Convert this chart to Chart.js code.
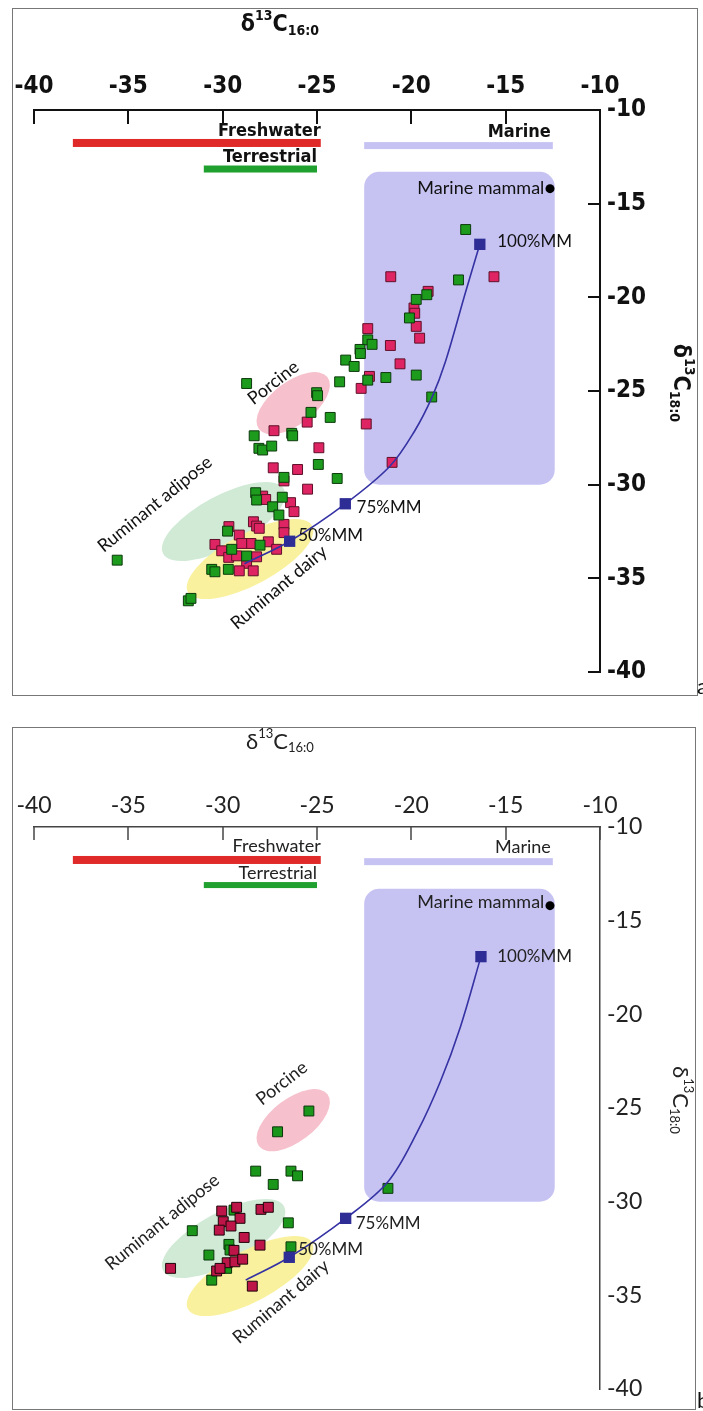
<!DOCTYPE html>
<html>
<head>
<meta charset="utf-8">
<script src="https://cdn.jsdelivr.net/npm/chart.js@4.4.1/dist/chart.umd.min.js"></script>
<style>
  html, body { margin: 0; padding: 0; background: #fff; }
  body { width: 703px; height: 1411px; position: relative; overflow: hidden; }
  .frame { position: absolute; border: 1px solid #777; box-sizing: border-box; }
  canvas { position: absolute; left: 0; }
  .tag { position: absolute; font: 22px Lato, sans-serif; color: #111; }
</style>
</head>
<body>
<div class="frame" style="left:12px;top:8px;width:686px;height:688px"></div>
<div class="frame" style="left:12px;top:727px;width:684px;height:683px"></div>
<canvas id="chartA" width="703" height="700" style="top:0"></canvas>
<canvas id="chartB" width="703" height="695" style="top:716px"></canvas>
<div class="tag" style="left:697px;top:672px">a</div>
<div class="tag" style="left:697px;top:1386px">b</div>
<script>
// axis ticks
const xTicks = [-40, -35, -30, -25, -20, -15, -10];
const yTicks = [-10, -15, -20, -25, -30, -35, -40];

// reference ranges (δ13C16:0 from / to)
const rangeNames = ['Freshwater', 'Terrestrial', 'Marine'];
const rangeFrom = [-37.94, -31.0, -22.5];
const rangeTo = [-24.8, -25.0, -12.5];
const marineBox = [-22.5, -12.4, -13.3, -30.0]; // x0, x1, y0, y1
const marineMammal = [-12.65, -14.2];
const mixNames = ['100%MM', '75%MM', '50%MM'];

// panel a: [δ13C16:0, δ13C18:0]
const aRed = [
  [-21.09,-18.90],[-15.62,-18.90],[-19.11,-19.68],[-19.86,-20.57],[-19.82,-20.85],
  [-19.74,-21.55],[-19.56,-22.18],[-22.31,-21.67],[-21.11,-22.57],[-20.60,-23.55],
  [-22.22,-24.22],[-22.66,-24.86],[-22.39,-26.76],[-21.02,-28.81],[-25.52,-26.66],
  [-27.28,-27.12],[-24.90,-28.03],[-27.32,-29.10],[-26.03,-29.19],[-26.75,-29.80],
  [-25.50,-30.24],[-27.88,-30.61],[-27.72,-30.79],[-26.40,-30.96],[-26.22,-31.44],
  [-26.75,-32.12],[-26.75,-32.56],[-28.37,-31.98],[-28.20,-32.21],[-28.06,-32.33],
  [-29.67,-32.24],[-29.12,-32.69],[-27.58,-33.05],[-27.14,-33.45],[-28.50,-33.14],
  [-28.99,-33.14],[-30.41,-33.19],[-30.05,-33.53],[-29.68,-33.88],[-29.26,-33.80],
  [-28.20,-33.85],[-28.73,-34.20],[-28.38,-34.60],[-29.12,-34.60]
];
const aGreen = [
  [-17.12,-16.38],[-17.50,-19.07],[-19.18,-19.86],[-19.74,-20.11],[-20.10,-21.10],
  [-22.31,-22.27],[-22.08,-22.51],[-22.72,-22.78],[-22.70,-23.00],[-23.48,-23.35],
  [-23.03,-23.69],[-22.31,-24.42],[-21.35,-24.28],[-19.74,-24.15],[-18.92,-25.32],
  [-23.80,-24.51],[-28.73,-24.60],[-25.02,-25.09],[-24.97,-25.25],[-25.32,-26.14],
  [-24.30,-26.41],[-28.33,-27.39],[-26.34,-27.26],[-26.29,-27.39],[-28.08,-28.06],
  [-27.88,-28.15],[-27.40,-27.94],[-24.93,-28.92],[-26.75,-29.61],[-23.93,-29.67],
  [-28.25,-30.43],[-28.20,-30.82],[-26.84,-30.67],[-27.35,-31.18],[-27.02,-31.62],
  [-29.74,-32.48],[-28.02,-33.23],[-29.52,-33.45],[-28.73,-33.81],[-29.70,-34.52],
  [-30.58,-34.52],[-30.41,-34.65],[-35.59,-34.03],[-31.82,-36.20],[-31.68,-36.07]
];
const aMixLine = [
  [-16.37,-17.17],[-17.12,-19.70],[-18.19,-23.43],[-18.89,-25.30],[-19.84,-27.16],
  [-21.15,-29.03],[-23.50,-31.02],[-26.45,-33.02],[-28.85,-34.22]
];
const aMix = [[-16.37,-17.17],[-23.50,-31.02],[-26.45,-33.02]];

// panel b
const bRed = [
  [-30.05,-30.50],[-29.26,-30.30],[-27.97,-30.41],[-27.58,-30.30],[-29.97,-31.07],
  [-29.08,-30.89],[-29.56,-31.30],[-30.18,-31.52],[-28.86,-31.91],[-29.40,-32.60],
  [-28.02,-32.32],[-32.76,-33.56],[-29.76,-33.26],[-29.35,-33.21],[-28.94,-33.07],
  [-30.32,-33.70],[-30.14,-33.56],[-28.43,-34.51]
];
const bGreen = [
  [-21.24,-29.29],[-25.43,-25.16],[-27.09,-26.27],[-28.25,-28.37],[-26.38,-28.37],
  [-26.03,-28.62],[-27.32,-29.08],[-31.61,-31.55],[-26.52,-31.13],[-29.67,-32.28],
  [-26.38,-32.41],[-30.73,-32.85],[-29.61,-32.58],[-29.79,-33.56],[-30.58,-34.19],
  [-29.40,-30.45]
];
const bMixLine = [
  [-16.31,-16.92],[-17.40,-20.67],[-18.45,-23.56],[-19.67,-26.25],[-21.24,-28.94],
  [-23.48,-30.89],[-26.47,-32.97],[-28.78,-34.19]
];
const bMix = [[-16.31,-16.92],[-23.48,-30.89],[-26.47,-32.97]];

// shaded groups: centre x, centre y, half length, half width (x units), tilt deg
const groups = {
  Porcine: [-26.26, -25.65, 2.28, 1.14, 37],
  adipose: [-29.95, -31.97, 3.63, 1.38, 28],
  dairy: [-28.55, -33.97, 3.73, 1.36, 28]
};

const narrow = '"Liberation Sans Narrow", "DejaVu Sans Condensed", "Liberation Sans", sans-serif';
const plain = 'Lato, "Open Sans", sans-serif';

function pts(list) {
  return list.map(p => ({ x: p[0], y: p[1] }));
}

function isotope(ctx, cx, cy, rot, size, family, weight, sub) {
  const small = Math.round(size * 0.6);
  const parts = [['δ', size, 0], ['13', small, -0.38], ['C', size, 0], [sub, small, 0.28]];
  let total = 0;
  parts.forEach(p => {
    ctx.font = weight + ' ' + p[1] + 'px ' + family;
    p.push(ctx.measureText(p[0]).width);
    total += p[3];
  });
  ctx.save();
  ctx.translate(cx, cy);
  ctx.rotate(rot);
  ctx.textBaseline = 'middle';
  ctx.textAlign = 'left';
  let xx = -total / 2;
  parts.forEach(p => {
    ctx.font = weight + ' ' + p[1] + 'px ' + family;
    ctx.fillText(p[0], xx, p[2] * size);
    xx += p[3];
  });
  ctx.restore();
}

const decor = {
  id: 'decor',
  beforeDatasetsDraw(chart, args, o) {
    const { ctx, scales: { x, y } } = chart;
    const px = v => x.getPixelForValue(v);
    const py = v => y.getPixelForValue(v);
    const unit = Math.abs(px(1) - px(0));
    ctx.save();

    // source ranges under the axis
    rangeNames.forEach((name, i) => {
      ctx.fillStyle = o.rangeColors[i];
      const yy = py(o.rangeY[i]);
      ctx.fillRect(px(rangeFrom[i]), yy - o.rangeW[i] / 2, px(rangeTo[i]) - px(rangeFrom[i]), o.rangeW[i]);
      ctx.fillStyle = o.text;
      ctx.font = o.rangeFont;
      ctx.textAlign = 'right';
      ctx.textBaseline = 'middle';
      ctx.fillText(name, px(rangeTo[i]) + (i === 2 ? -2 : 0), py(o.rangeLabelY[i]));
    });

    // marine box
    const bx0 = px(marineBox[0]), bx1 = px(marineBox[1]);
    const by0 = py(marineBox[2]), by1 = py(marineBox[3]);
    const r = 15;
    ctx.fillStyle = '#c6c3f3';
    ctx.beginPath();
    ctx.moveTo(bx0 + r, by0);
    ctx.arcTo(bx1, by0, bx1, by1, r);
    ctx.arcTo(bx1, by1, bx0, by1, r);
    ctx.arcTo(bx0, by1, bx0, by0, r);
    ctx.arcTo(bx0, by0, bx1, by0, r);
    ctx.closePath();
    ctx.fill();

    // group ellipses
    const fills = { Porcine: '#f6c1cc', adipose: '#d0ead6', dairy: 'rgba(248,240,150,0.92)' };
    ['Porcine', 'adipose', 'dairy'].forEach(k => {
      const g = groups[k];
      ctx.fillStyle = fills[k];
      ctx.beginPath();
      ctx.ellipse(px(g[0]), py(g[1]), g[2] * unit, g[3] * unit, -g[4] * Math.PI / 180, 0, Math.PI * 2);
      ctx.fill();
    });
    ctx.restore();
  },
  afterDraw(chart, args, o) {
    const { ctx, scales: { x, y }, chartArea } = chart;
    const px = v => x.getPixelForValue(v);
    const py = v => y.getPixelForValue(v);
    ctx.save();
    ctx.strokeStyle = o.axis;
    ctx.lineWidth = o.axisW;
    // inward tick marks
    xTicks.forEach(v => {
      const xx = Math.round(px(v));
      ctx.beginPath();
      ctx.moveTo(xx, chartArea.top);
      ctx.lineTo(xx, chartArea.top + o.xTickLen);
      ctx.stroke();
    });
    if (o.yTickLen) {
      yTicks.forEach(v => {
        const yy = Math.round(py(v));
        ctx.beginPath();
        ctx.moveTo(chartArea.right, yy);
        ctx.lineTo(chartArea.right - o.yTickLen, yy);
        ctx.stroke();
      });
    }

    // marine mammal end-member
    ctx.fillStyle = '#000';
    ctx.beginPath();
    ctx.arc(px(marineMammal[0]), py(marineMammal[1]), 4.5, 0, Math.PI * 2);
    ctx.fill();

    // labels
    ctx.fillStyle = o.text;
    o.labels.forEach(l => {
      ctx.save();
      ctx.font = l[4] || o.labelFont;
      ctx.translate(px(l[1]), py(l[2]));
      ctx.rotate(-(l[3] || 0) * Math.PI / 180);
      ctx.textAlign = l[5] || 'center';
      ctx.textBaseline = 'middle';
      ctx.fillText(l[0], 0, 0);
      ctx.restore();
    });

    // axis titles
    isotope(ctx, o.xTitle[0], o.xTitle[1], 0, o.titleSize, o.titleFamily, o.titleWeight, '16:0');
    isotope(ctx, o.yTitle[0], o.yTitle[1], Math.PI / 2, o.titleSize, o.titleFamily, o.titleWeight, '18:0');
    ctx.restore();
  }
};

function makeChart(id, cfg) {
  const tickFont = cfg.tickFont;
  return new Chart(document.getElementById(id), {
    type: 'scatter',
    data: {
      datasets: [
        {
          label: 'mix', data: pts(cfg.mix), order: 0,
          pointStyle: 'rect', pointRadius: 8, backgroundColor: '#2e2c95', borderWidth: 0
        },
        {
          label: 'mixing line', data: pts(cfg.mixLine), order: 1, showLine: true,
          pointRadius: 0, borderColor: '#3532a3', borderWidth: 1.6, tension: 0.35
        },
        {
          label: 'red', data: pts(cfg.red), order: cfg.redOrder,
          pointStyle: 'rect', pointRadius: 7, backgroundColor: cfg.redFill,
          borderColor: cfg.redEdge, borderWidth: 1
        },
        {
          label: 'green', data: pts(cfg.green), order: cfg.greenOrder,
          pointStyle: 'rect', pointRadius: 7, backgroundColor: cfg.greenFill,
          borderColor: cfg.greenEdge, borderWidth: 1
        }
      ]
    },
    options: {
      responsive: false,
      animation: false,
      events: [],
      layout: { padding: { left: 34, right: 0, top: 0, bottom: cfg.padBottom } },
      plugins: {
        legend: { display: false },
        tooltip: { enabled: false },
        decor: cfg.decor
      },
      scales: {
        x: {
          type: 'linear', position: 'top', min: -40, max: -10,
          afterBuildTicks: s => { s.ticks = xTicks.map(v => ({ value: v })); },
          afterFit: s => { s.height = cfg.top; },
          grid: { display: false, drawTicks: false },
          border: { display: true, color: cfg.axis, width: cfg.axisW },
          ticks: { padding: cfg.xPad, color: cfg.tickColor, font: tickFont, maxRotation: 0 }
        },
        y: {
          type: 'linear', position: 'right', min: -40, max: -10,
          afterBuildTicks: s => { s.ticks = yTicks.map(v => ({ value: v })); },
          afterFit: s => { s.width = 103; },
          grid: { display: false, drawTicks: false },
          border: { display: true, color: cfg.axis, width: cfg.axisW },
          ticks: { padding: 7, color: cfg.tickColor, font: tickFont }
        }
      }
    },
    plugins: [decor]
  });
}

makeChart('chartA', {
  red: aRed, green: aGreen, mix: aMix, mixLine: aMixLine,
  redFill: '#de2462', redEdge: '#5e1028', greenFill: '#1d9b1d', greenEdge: '#0c3a0c',
  redOrder: 3, greenOrder: 2,
  top: 110, padBottom: 28, xPad: 9,
  axis: '#111', axisW: 2, tickColor: '#111',
  tickFont: { family: narrow, size: 24, weight: 'bold' },
  decor: {
    axis: '#111', axisW: 2, xTickLen: 14, yTickLen: 12, text: '#111',
    rangeColors: ['#e02a2a', '#1fa02f', '#c6c3f3'], rangeW: [8, 7, 7],
    rangeY: [-11.76, -13.15, -11.9], rangeLabelY: [-11.15, -12.5, -11.2],
    rangeFont: 'bold 18px ' + narrow,
    labelFont: '17px ' + plain,
    titleSize: 23, titleFamily: narrow, titleWeight: 'bold',
    xTitle: [280, 25], yTitle: [680, 383],
    labels: [
      ['Marine mammal', -12.95, -14.2, 0, '18px ' + plain, 'right'],
      [mixNames[0], -15.45, -17.0, 0, null, 'left'],
      [mixNames[1], -22.9, -31.22, 0, null, 'left'],
      [mixNames[2], -26.0, -32.69, 0, null, 'left'],
      ['Porcine', -27.32, -24.56, 38, '18px ' + plain],
      ['Ruminant adipose', -33.59, -31.04, 39, '18px ' + plain],
      ['Ruminant dairy', -27.02, -35.49, 40, '18px ' + plain]
    ]
  }
});

makeChart('chartB', {
  red: bRed, green: bGreen, mix: bMix, mixLine: bMixLine,
  redFill: '#bd1548', redEdge: '#1c0509', greenFill: '#1a961a', greenEdge: '#0b360b',
  redOrder: 2, greenOrder: 3,
  top: 111, padBottom: 22, xPad: 8,
  axis: '#444', axisW: 1.5, tickColor: '#222',
  tickFont: { family: plain, size: 23, weight: 'normal' },
  decor: {
    axis: '#444', axisW: 1.5, xTickLen: 13, yTickLen: 0, text: '#222',
    rangeColors: ['#e02a2a', '#1fa02f', '#c6c3f3'], rangeW: [8, 6, 7],
    rangeY: [-11.76, -13.1, -11.85], rangeLabelY: [-11.0, -12.47, -11.1],
    rangeFont: '18px ' + plain,
    labelFont: '17px ' + plain,
    titleSize: 22, titleFamily: plain, titleWeight: 'normal',
    xTitle: [280, 26], yTitle: [680, 384],
    labels: [
      ['Marine mammal', -12.95, -14.04, 0, '18px ' + plain, 'right'],
      [mixNames[0], -15.45, -16.92, 0, null, 'left'],
      [mixNames[1], -22.95, -31.16, 0, null, 'left'],
      [mixNames[2], -26.0, -32.55, 0, null, 'left'],
      ['Porcine', -26.87, -23.68, 38, '18px ' + plain],
      ['Ruminant adipose', -33.2, -31.09, 39, '18px ' + plain],
      ['Ruminant dairy', -26.91, -35.34, 40, '18px ' + plain]
    ]
  }
});
</script>
</body>
</html>
